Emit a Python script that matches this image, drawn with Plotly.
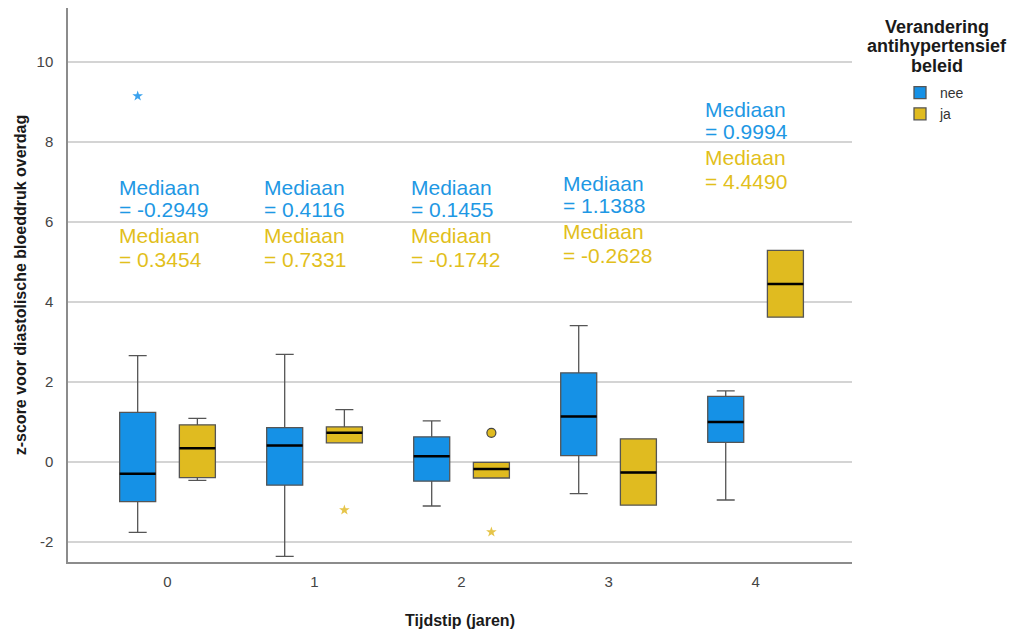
import plotly.graph_objects as go

# ---------------- data ----------------
categories = [0, 1, 2, 3, 4]
tick_labels = ["0", "1", "2", "3", "4"]
y_tickvals = [-2, 0, 2, 4, 6, 8, 10]
y_ticklabels = ["-2", "0", "2", "4", "6", "8", "10"]
group_names = ["nee", "ja"]

nee_lowerfence = [-1.76, -2.36, -1.10, -0.79, -0.95]
nee_q1 = [-0.99, -0.58, -0.48, 0.16, 0.49]
nee_median = [-0.2949, 0.4116, 0.1455, 1.1388, 0.9994]
nee_q3 = [1.24, 0.86, 0.63, 2.23, 1.64]
nee_upperfence = [2.66, 2.69, 1.03, 3.41, 1.78]

ja_lowerfence = [-0.46, 0.48, -0.40, -1.08, 3.62]
ja_q1 = [-0.39, 0.48, -0.40, -1.08, 3.62]
ja_median = [0.3454, 0.7331, -0.1742, -0.2628, 4.4490]
ja_q3 = [0.93, 0.88, -0.01, 0.58, 5.29]
ja_upperfence = [1.09, 1.31, -0.01, 0.58, 5.29]

# extreme outliers (stars) and outliers (circles)
nee_star_cat = [0]
nee_star_y = [9.15]
ja_star_cat = [1, 2]
ja_star_y = [-1.20, -1.75]
ja_circle_cat = [2]
ja_circle_y = [0.73]

nee_median_text = ["-0.2949", "0.4116", "0.1455", "1.1388", "0.9994"]
ja_median_text = ["0.3454", "0.7331", "-0.1742", "-0.2628", "4.4490"]

# ---------------- layout constants ----------------
OFFSET = 0.203
BOX_W = 0.245
ann_top_y = [6.87, 6.87, 6.87, 6.97, 8.82]
ann_xshift = [-2.5, -4.5, -4.5, 0.5, -4.5]

BLUE = "#1591e6"
YELLOW = "#e0bb20"
BLUE_TXT = "#1e98e4"
YELLOW_TXT = "#e2bf1c"
FONT = "Liberation Sans, Arial, sans-serif"

fig = go.Figure()

def add_group(name, sign, lf, q1, med, q3, uf, color):
    xs = [c + sign * OFFSET for c in categories]
    fig.add_trace(go.Box(
        name=name, x=xs, q1=q1, median=med, q3=q3,
        lowerfence=lf, upperfence=uf,
        width=BOX_W, whiskerwidth=0.5,
        fillcolor=color, line=dict(color="#555555", width=1.3),
        boxpoints=False, showlegend=True,
    ))
    # median overlay (black, thicker)
    mx, my = [], []
    for x, m in zip(xs, med):
        mx += [x - BOX_W / 2, x + BOX_W / 2, None]
        my += [m, m, None]
    fig.add_trace(go.Scatter(x=mx, y=my, mode="lines",
                             line=dict(color="black", width=2.5),
                             showlegend=False, hoverinfo="skip"))

add_group("nee", -1, nee_lowerfence, nee_q1, nee_median, nee_q3, nee_upperfence, BLUE)
add_group("ja", 1, ja_lowerfence, ja_q1, ja_median, ja_q3, ja_upperfence, YELLOW)

fig.add_trace(go.Scatter(
    x=[c - OFFSET for c in nee_star_cat], y=nee_star_y, mode="markers",
    marker=dict(symbol="star", size=8, color="#3aa2ee"),
    showlegend=False, hoverinfo="skip"))
fig.add_trace(go.Scatter(
    x=[c + OFFSET for c in ja_star_cat], y=ja_star_y, mode="markers",
    marker=dict(symbol="star", size=8, color="#e6c54a"),
    showlegend=False, hoverinfo="skip"))
fig.add_trace(go.Scatter(
    x=[c + OFFSET for c in ja_circle_cat], y=ja_circle_y, mode="markers",
    marker=dict(symbol="circle", size=9, color=YELLOW,
                line=dict(color="#444444", width=1.2)),
    showlegend=False, hoverinfo="skip"))

annotations = []
line_shifts = [0, -22, -48.5, -72]
for i, c in enumerate(categories):
    x_left = c - OFFSET - BOX_W / 2
    texts = [("Mediaan", BLUE_TXT), ("= " + nee_median_text[i], BLUE_TXT),
             ("Mediaan", YELLOW_TXT), ("= " + ja_median_text[i], YELLOW_TXT)]
    for (t, col), ys in zip(texts, line_shifts):
        annotations.append(dict(
            x=x_left, y=ann_top_y[i], xref="x", yref="y", text=t,
            showarrow=False, xanchor="left", yanchor="middle",
            xshift=ann_xshift[i], yshift=ys,
            font=dict(family=FONT, size=21, color=col)))

# legend title as annotations
for t, ypx in zip(["Verandering", "antihypertensief", "beleid"], [27, 46.5, 66]):
    annotations.append(dict(
        x=937, y=ypx, xref="paper", yref="paper", text="<b>%s</b>" % t,
        showarrow=False, xanchor="center", yanchor="middle",
        font=dict(family=FONT, size=18, color="#1a1a1a")))

# convert legend-title pixel positions to paper coords
L, R, T, B = 68, 161, 8, 72
W, H = 1013, 634
pw, ph = W - L - R, H - T - B
for a in annotations[-3:]:
    a["x"] = (a["x"] - L) / pw
    a["y"] = (H - B - a["y"]) / ph

fig.update_layout(
    width=W, height=H,
    margin=dict(l=L, r=R, t=T, b=B),
    paper_bgcolor="white", plot_bgcolor="white",
    boxmode="overlay",
    font=dict(family=FONT, size=14, color="#444444"),
    showlegend=True,
    legend=dict(x=(900 - L) / pw, y=(H - B - 77) / ph, xanchor="left", yanchor="top",
                font=dict(family=FONT, size=14, color="#333333"),
                bgcolor="rgba(0,0,0,0)", tracegroupgap=0),
    annotations=annotations,
    xaxis=dict(
        range=[-0.677, 4.656], tickmode="array", tickvals=categories, ticktext=tick_labels,
        showgrid=False, zeroline=False, showline=True, linecolor="#8c8c8c", linewidth=1.5,
        ticks="", ticklabelstandoff=5,
        tickfont=dict(family=FONT, size=15, color="#444444"),
        title=dict(text="<b>Tijdstip (jaren)</b>", standoff=26,
                   font=dict(family=FONT, size=16, color="#1a1a1a")),
    ),
    yaxis=dict(
        range=[-2.5, 11.35], tickmode="array", tickvals=y_tickvals, ticktext=y_ticklabels,
        showgrid=True, gridcolor="#d4d4d4", gridwidth=1.5,
        zeroline=False, showline=True, linecolor="#8c8c8c", linewidth=1.5,
        ticks="", ticklabelstandoff=10,
        tickfont=dict(family=FONT, size=15, color="#444444"),
        title=dict(text="<b>z-score voor diastolische bloeddruk overdag</b>", standoff=6,
                   font=dict(family=FONT, size=16, color="#1a1a1a")),
    ),
)

fig.write_html("out.html")
